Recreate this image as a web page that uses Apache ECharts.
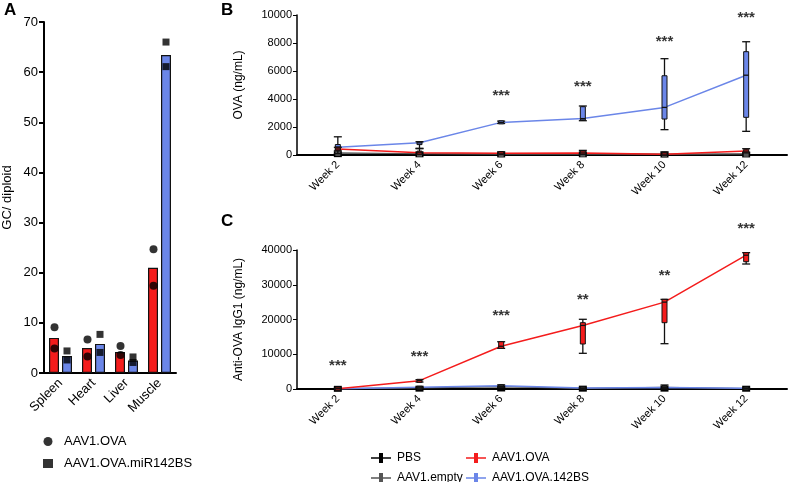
<!DOCTYPE html>
<html><head><meta charset="utf-8">
<script src="https://cdn.jsdelivr.net/npm/echarts@6/dist/echarts.min.js"></script>
<style>html,body{margin:0;padding:0;background:#fff}#c{width:788px;height:482px}</style>
</head><body><div id="c"></div>
<script>
// ---------- Panel A data ----------
const tissues = ['Spleen', 'Heart', 'Liver', 'Muscle'];
const barOva = [7.0, 5.0, 4.2, 21.0];
const barMir = [3.4, 5.8, 2.5, 63.4];
const dotsOva = [[0, 9.1], [0, 4.9], [1, 6.7], [1, 3.3], [2, 5.4], [2, 3.6], [3, 24.7], [3, 17.4]];
const dotsMir = [[0, 4.4], [0, 2.6], [1, 7.7], [1, 4.1], [2, 3.2], [2, 2.1], [3, 66.0], [3, 61.1]];

// ---------- Panels B/C ----------
const weeks = ['Week 2', 'Week 4', 'Week 6', 'Week 8', 'Week 10', 'Week 12'];
// B: OVA (ng/mL)
const pbsB = [60, 50, 40, 50, 30, 40];
const emptyB = [150, 90, 60, 80, 50, 80];
const ovaB = [430, 160, 130, 150, 60, 280];
const ova142B = [560, 870, 2330, 2600, 3400, 5700];
// boxes: [min, q1, median, q3, max]
const ova142BoxB = [[100, 350, 560, 750, 1300], [450, 750, 870, 950, 950], [2250, 2250, 2330, 2420, 2420],
  [2450, 2500, 2600, 3450, 3500], [1810, 2570, 3400, 5660, 6880], [1690, 2690, 5700, 7380, 8090]];
const ovaBoxB = [[300, 380, 430, 500, 550], [50, 120, 160, 200, 480], [60, 100, 130, 180, 220],
  [50, 100, 150, 250, 330], [0, 30, 60, 100, 220], [150, 200, 280, 400, 450]];
const starsB = ['', '', '***', '***', '***', '***'];
const starsYB = [null, null, 4240, 4880, 8070, 9790];

// C: Anti-OVA IgG1 (ng/mL)
const pbsC = [50, 100, 150, 100, 100, 80];
const emptyC = [80, 300, 700, 200, 500, 150];
const ovaC = [100, 2400, 12300, 18300, 25000, 38500];
const ova142C = [100, 500, 900, 300, 400, 200];
const ovaBoxC = [[0, 50, 100, 150, 200], [2000, 2100, 2400, 2600, 2700], [11700, 11700, 12300, 13600, 13600],
  [10270, 12950, 18300, 19080, 20060], [13040, 19080, 25000, 25800, 25800], [35970, 36630, 38500, 39230, 39230]];
const emptyBoxC = [[0, 30, 80, 130, 200], [200, 250, 300, 450, 500], [500, 600, 700, 1000, 1200],
  [100, 150, 200, 300, 400], [0, 300, 500, 800, 1150], [50, 100, 150, 200, 250]];
const starsC = ['***', '***', '***', '**', '**', '***'];
const starsYC = [6700, 9300, 21100, 25700, 32500, 46200];

const RED = '#f41c1c';
const BLUE = '#6b86e8';
const FONT = 'Liberation Sans, Arial, sans-serif';

function boxData(arr) { return arr.map((b, i) => [i].concat(b)); }
function boxRender(fill) {
  return function (params, api) {
    const c = api.value(0);
    const p = k => api.coord([c, api.value(k)]);
    const pMin = p(1), pQ1 = p(2), pMed = p(3), pQ3 = p(4), pMax = p(5);
    const x = pMin[0];
    const bw = 5, cw = 8;
    const black = { stroke: '#111', lineWidth: 1.3 };
    const ch = [];
    ch.push({ type: 'line', shape: { x1: x, y1: pMax[1], x2: x, y2: pMin[1] }, style: black });
    ch.push({ type: 'line', shape: { x1: x - cw / 2, y1: pMax[1], x2: x + cw / 2, y2: pMax[1] }, style: black });
    ch.push({ type: 'line', shape: { x1: x - cw / 2, y1: pMin[1], x2: x + cw / 2, y2: pMin[1] }, style: black });
    const raw = Math.abs(pQ1[1] - pQ3[1]);
    const top = Math.min(pQ3[1], pQ1[1]);
    const h = Math.max(raw, 3);
    ch.push({ type: 'rect', shape: { x: x - bw / 2, y: top - (h > raw ? (h - raw) / 2 : 0), width: bw, height: h },
      style: { fill: fill, stroke: '#111', lineWidth: 1 } });
    ch.push({ type: 'line', shape: { x1: x - bw / 2, y1: pMed[1], x2: x + bw / 2, y2: pMed[1] }, style: black });
    return { type: 'group', children: ch };
  };
}
function starData(labels, ys) {
  const out = [];
  labels.forEach((l, i) => { if (l) out.push({ value: [i, ys[i]], label: { formatter: l } }); });
  return out;
}
const plain = v => String(v);
const ICON = 'path://M0,4.3h20v1.4h-20z M8,0h4v10h-4z';

const option = {
  animation: false,
  textStyle: { fontFamily: FONT },
  graphic: [
    { type: 'text', left: 4, top: 2, style: { text: 'A', font: 'bold 17px ' + FONT, fill: '#000' } },
    { type: 'text', left: 221, top: 2, style: { text: 'B', font: 'bold 17px ' + FONT, fill: '#000' } },
    { type: 'text', left: 221, top: 213, style: { text: 'C', font: 'bold 17px ' + FONT, fill: '#000' } }
  ],
  grid: [
    { left: 44, top: 22, width: 132, height: 351 },
    { left: 297, top: 15, width: 490, height: 140 },
    { left: 297, top: 250, width: 490, height: 139 }
  ],
  legend: [
    { orient: 'vertical', left: 38, top: 430, itemGap: 9, itemWidth: 10, itemHeight: 9,
      textStyle: { fontSize: 13, color: '#000', fontFamily: FONT, padding: [0, 0, 0, 6] },
      data: [{ name: 'AAV1.OVA', icon: 'circle' }, { name: 'AAV1.OVA.miR142BS', icon: 'rect' }] },
    { orient: 'vertical', left: 371, top: 452, padding: 0, height: 40, itemGap: 8, itemWidth: 20, itemHeight: 10,
      textStyle: { fontSize: 12, color: '#000', fontFamily: FONT, padding: [0, 0, 0, 1] },
      data: [{ name: 'PBS', icon: ICON }, { name: 'AAV1.empty', icon: ICON }] },
    { orient: 'vertical', left: 466, top: 452, padding: 0, height: 40, itemGap: 8, itemWidth: 20, itemHeight: 10,
      textStyle: { fontSize: 12, color: '#000', fontFamily: FONT, padding: [0, 0, 0, 1] },
      data: [{ name: 'AAV1.OVA ', icon: ICON }, { name: 'AAV1.OVA.142BS', icon: ICON }] }
  ],
  xAxis: [
    { gridIndex: 0, type: 'category', data: tissues,
      axisLine: { lineStyle: { color: '#000', width: 2 } },
      axisTick: { alignWithLabel: true, length: 5, lineStyle: { width: 1.5 } },
      axisLabel: { rotate: 45, fontSize: 13, color: '#000', margin: 8, interval: 0 } },
    { gridIndex: 1, type: 'category', data: weeks,
      axisLine: { lineStyle: { color: '#000', width: 2 } },
      axisTick: { alignWithLabel: true, length: 4 },
      axisLabel: { rotate: 45, fontSize: 11, color: '#000', margin: 8, interval: 0 } },
    { gridIndex: 2, type: 'category', data: weeks,
      axisLine: { lineStyle: { color: '#000', width: 2 } },
      axisTick: { alignWithLabel: true, length: 4 },
      axisLabel: { rotate: 45, fontSize: 11, color: '#000', margin: 8, interval: 0 } }
  ],
  yAxis: [
    { gridIndex: 0, type: 'value', min: 0, max: 70, interval: 10,
      name: 'GC/ diploid', nameLocation: 'middle', nameGap: 30, nameTextStyle: { fontSize: 13, color: '#000' },
      axisLine: { show: true, lineStyle: { color: '#000', width: 2 } },
      axisTick: { show: true, length: 5, lineStyle: { width: 2 } },
      axisLabel: { fontSize: 13, color: '#000', margin: 6, formatter: plain }, splitLine: { show: false } },
    { gridIndex: 1, type: 'value', min: 0, max: 10000, interval: 2000,
      name: 'OVA (ng/mL)', nameLocation: 'middle', nameGap: 52, nameTextStyle: { fontSize: 12, color: '#000' },
      axisLine: { show: true, lineStyle: { color: '#000', width: 1.5 } },
      axisTick: { show: true, length: 4 },
      axisLabel: { fontSize: 11, color: '#000', margin: 5, formatter: plain }, splitLine: { show: false } },
    { gridIndex: 2, type: 'value', min: 0, max: 40000, interval: 10000,
      name: 'Anti-OVA IgG1 (ng/mL)', nameLocation: 'middle', nameGap: 52, nameTextStyle: { fontSize: 12, color: '#000' },
      axisLine: { show: true, lineStyle: { color: '#000', width: 1.5 } },
      axisTick: { show: true, length: 4 },
      axisLabel: { fontSize: 11, color: '#000', margin: 5, formatter: plain }, splitLine: { show: false } }
  ],
  series: [
    // Panel A
    { type: 'bar', name: 'barOva', xAxisIndex: 0, yAxisIndex: 0, data: barOva, barWidth: 10, barGap: '30%',
      itemStyle: { color: RED, borderColor: '#111', borderWidth: 1.2 } },
    { type: 'bar', name: 'barMir', xAxisIndex: 0, yAxisIndex: 0, data: barMir, barWidth: 10,
      itemStyle: { color: BLUE, borderColor: '#111', borderWidth: 1.2 } },
    { type: 'scatter', name: 'AAV1.OVA', xAxisIndex: 0, yAxisIndex: 0, data: dotsOva, symbol: 'circle',
      symbolSize: 8, symbolOffset: [-6, 0], itemStyle: { color: '#000' }, z: 5 },
    { type: 'scatter', name: 'AAV1.OVA.miR142BS', xAxisIndex: 0, yAxisIndex: 0, data: dotsMir, symbol: 'rect',
      symbolSize: 7, symbolOffset: [6.5, 0], itemStyle: { color: '#000' }, z: 5, clip: false },
    // Panel B lines
    { type: 'line', name: 'PBS', xAxisIndex: 1, yAxisIndex: 1, data: pbsB, symbol: 'rect', symbolSize: [8, 6],
      lineStyle: { color: '#000', width: 1.5 }, itemStyle: { color: '#000' }, z: 3 },
    { type: 'line', name: 'AAV1.empty', xAxisIndex: 1, yAxisIndex: 1, data: emptyB, symbol: 'rect', symbolSize: [5, 6],
      lineStyle: { color: '#555', width: 1.2 }, itemStyle: { color: '#555' }, z: 3 },
    { type: 'line', name: 'AAV1.OVA ', xAxisIndex: 1, yAxisIndex: 1, data: ovaB, symbol: 'none',
      lineStyle: { color: RED, width: 1.5 }, itemStyle: { color: RED }, z: 3 },
    { type: 'line', name: 'AAV1.OVA.142BS', xAxisIndex: 1, yAxisIndex: 1, data: ova142B, symbol: 'none',
      lineStyle: { color: BLUE, width: 1.5 }, itemStyle: { color: BLUE }, z: 3 },
    { type: 'custom', name: 'boxB142', xAxisIndex: 1, yAxisIndex: 1, data: boxData(ova142BoxB),
      renderItem: boxRender(BLUE), z: 4, clip: false },
    { type: 'custom', name: 'boxBova', xAxisIndex: 1, yAxisIndex: 1, data: boxData(ovaBoxB),
      renderItem: boxRender(RED), z: 4, clip: false },
    { type: 'scatter', name: 'starsB', xAxisIndex: 1, yAxisIndex: 1, data: starData(starsB, starsYB), symbolSize: 0,
      clip: false, label: { show: true, position: 'inside', fontSize: 15, color: '#000', fontWeight: 'bold' } },
    // Panel C lines
    { type: 'line', name: 'PBS', xAxisIndex: 2, yAxisIndex: 2, data: pbsC, symbol: 'rect', symbolSize: [8, 6],
      lineStyle: { color: '#000', width: 1.5 }, itemStyle: { color: '#000' }, z: 3 },
    { type: 'line', name: 'AAV1.empty', xAxisIndex: 2, yAxisIndex: 2, data: emptyC, symbol: 'none',
      lineStyle: { color: '#555', width: 1.2 }, itemStyle: { color: '#555' }, z: 3 },
    { type: 'line', name: 'AAV1.OVA.142BS', xAxisIndex: 2, yAxisIndex: 2, data: ova142C, symbol: 'none',
      lineStyle: { color: BLUE, width: 1.5 }, itemStyle: { color: BLUE }, z: 3 },
    { type: 'line', name: 'AAV1.OVA ', xAxisIndex: 2, yAxisIndex: 2, data: ovaC, symbol: 'none',
      lineStyle: { color: RED, width: 1.5 }, itemStyle: { color: RED }, z: 3 },
    { type: 'custom', name: 'boxCempty', xAxisIndex: 2, yAxisIndex: 2, data: boxData(emptyBoxC),
      renderItem: boxRender('#333'), z: 4, clip: false },
    { type: 'custom', name: 'boxCova', xAxisIndex: 2, yAxisIndex: 2, data: boxData(ovaBoxC),
      renderItem: boxRender(RED), z: 4, clip: false },
    { type: 'scatter', name: 'starsC', xAxisIndex: 2, yAxisIndex: 2, data: starData(starsC, starsYC), symbolSize: 0,
      clip: false, label: { show: true, position: 'inside', fontSize: 15, color: '#000', fontWeight: 'bold' } }
  ]
};
const chart = echarts.init(document.getElementById('c'), null, { renderer: 'canvas' });
chart.setOption(option);
</script></body></html>
